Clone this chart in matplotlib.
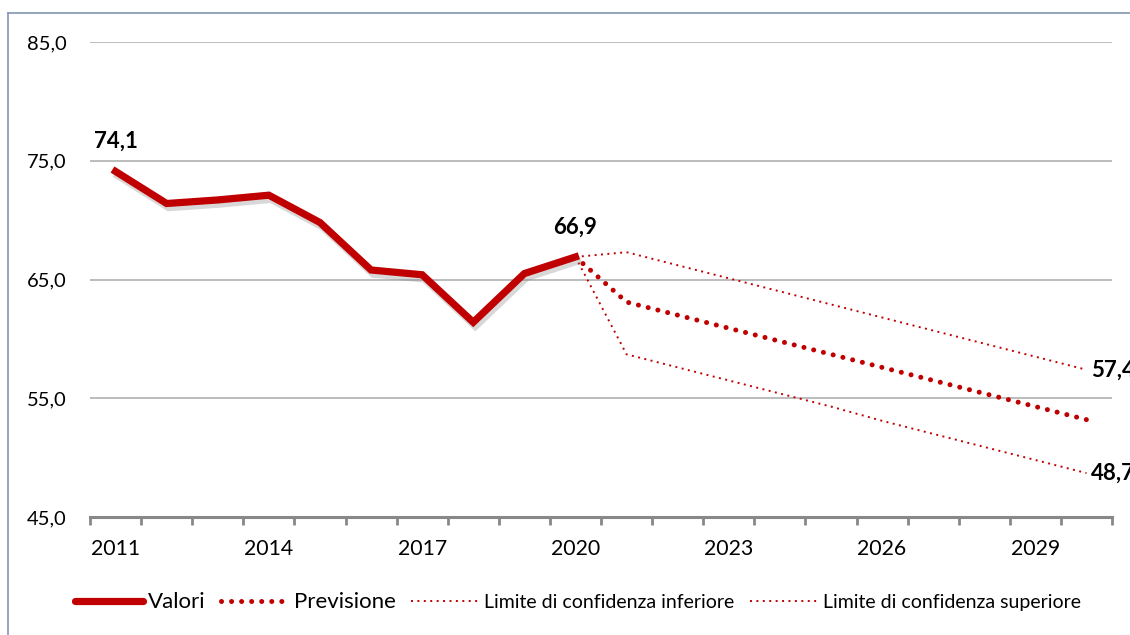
import matplotlib
matplotlib.use('Agg')
import matplotlib.pyplot as plt
import matplotlib.patheffects as pe
from matplotlib.lines import Line2D

plt.rcParams['font.family'] = ['Lato', 'DejaVu Sans']

# dati
anni = list(range(2011, 2031))
valori = [74.1, 71.4, 71.7, 72.1, 69.8, 65.8, 65.4, 61.4, 65.5, 66.9]
previsione = [66.9, 63.1, 62.0, 60.9, 59.8, 58.7, 57.6, 56.5, 55.4, 54.3, 53.2]
lim_sup = [66.9, 67.3, 66.2, 65.1, 64.0, 62.9, 61.8, 60.7, 59.6, 58.5, 57.4]
lim_inf = [66.9, 58.7, 57.6, 56.5, 55.4, 54.3, 53.1, 52.0, 50.9, 49.8, 48.7]
etichette_x = ['2011', '2014', '2017', '2020', '2023', '2026', '2029']
etichette_y = ['45,0', '55,0', '65,0', '75,0', '85,0']

rosso = '#c00000'
x_val = list(range(len(valori)))
x_prev = list(range(len(valori) - 1, len(anni)))

fig = plt.figure(figsize=(11.3, 6.35), dpi=100)
ax = fig.add_axes([90 / 1130, 1 - 517 / 635, 1022 / 1130, 475 / 635])

ombra = [pe.SimpleLineShadow(offset=(1.5, -3), shadow_color='#808080', alpha=0.3), pe.Normal()]
ax.plot(x_val, valori, color=rosso, lw=5.2, solid_joinstyle='miter', path_effects=ombra, zorder=4)
ax.plot(x_prev, previsione, color=rosso, lw=3.6, linestyle=(0, (0.01, 2.0)),
        dash_capstyle='round', zorder=3)
ax.plot(x_prev, lim_inf, color=rosso, lw=1.4, linestyle=(0, (1, 2.3)), zorder=3)
ax.plot(x_prev, lim_sup, color=rosso, lw=1.4, linestyle=(0, (1, 2.3)), zorder=3)

# etichette dati
lbl = dict(fontsize=16, fontweight='bold', color='black')
ax.annotate('74,1', (0, valori[0]), xytext=(0, 17), textcoords='offset points', ha='center', **lbl)
ax.annotate('66,9', (9, valori[-1]), xytext=(0, 17), textcoords='offset points', ha='center', **lbl)
ax.annotate('57,4', (19, lim_sup[-1]), xytext=(3, 0), textcoords='offset points', ha='left', va='center',
            annotation_clip=False, **lbl)
ax.annotate('48,7', (19, lim_inf[-1]), xytext=(3, 0), textcoords='offset points', ha='left', va='center',
            annotation_clip=False, **lbl)

ax.set_xlim(-0.5, len(anni) - 0.5)
ax.set_ylim(45, 85)
ax.set_yticks([45, 55, 65, 75, 85])
ax.set_yticklabels(etichette_y, fontsize=14.5)
ax.tick_params(axis='y', length=0, pad=17)
for v in [55, 65, 75, 85]:
    ax.axhline(v, color='#b0b0b0', lw=1.2, zorder=1)

ax.set_xticks([i - 0.5 for i in range(len(anni) + 1)])
ax.set_xticklabels([])
ax.tick_params(axis='x', which='major', length=6, width=2, color='#888888', direction='out')
ax.set_xticks([anni.index(int(a)) for a in etichette_x], minor=True)
ax.set_xticklabels(etichette_x, minor=True, fontsize=15.3)
ax.tick_params(axis='x', which='minor', length=0, pad=16)

for s in ['left', 'right', 'top']:
    ax.spines[s].set_visible(False)
ax.spines['bottom'].set_color('#888888')
ax.spines['bottom'].set_linewidth(2.2)

# legenda
handles = [
    Line2D([], [], color=rosso, lw=5.2, solid_capstyle='round'),
    Line2D([], [], color=rosso, lw=3.6, linestyle=(0, (0.01, 2.0)), dash_capstyle='round'),
    Line2D([], [], color=rosso, lw=1.4, linestyle=(0, (1, 2.3))),
    Line2D([], [], color=rosso, lw=1.4, linestyle=(0, (1, 2.3))),
]
nomi = ['Valori', 'Previsione', 'Limite di confidenza inferiore', 'Limite di confidenza superiore']
leg = fig.legend(handles, nomi, loc='center', bbox_to_anchor=(578 / 1130, 1 - 602 / 635), ncol=4,
                 frameon=False, handlelength=3.5, handletextpad=0.25, columnspacing=0.8, fontsize=14)
for t, fs in zip(leg.get_texts(), [16, 16, 14, 14]):
    t.set_fontsize(fs)

# cornice
fig.add_artist(Line2D([8 / 1130, 8 / 1130], [0, 1 - 13 / 635], color='#8496b0', lw=1.2))
fig.add_artist(Line2D([8 / 1130, 1], [1 - 13 / 635, 1 - 13 / 635], color='#8496b0', lw=1.2))

fig.savefig('out.png', dpi=100)
